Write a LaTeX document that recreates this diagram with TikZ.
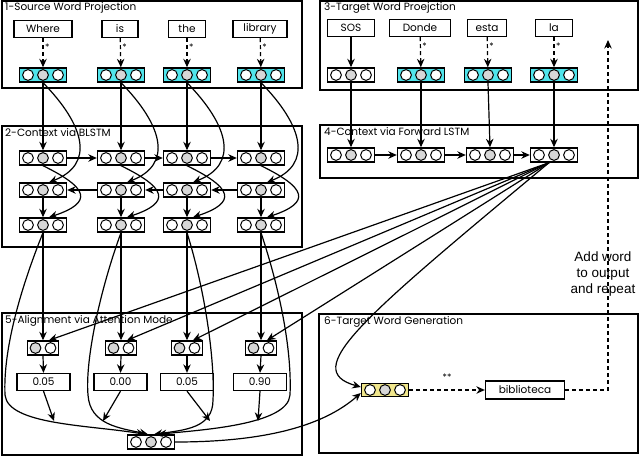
\documentclass[tikz,border=0pt]{standalone}
\usepackage{fontspec}
\setmainfont{Poppins}
\newfontfamily\arialf{Liberation Sans}
\usetikzlibrary{arrows.meta}
\definecolor{cyanf}{RGB}{80,228,235}
\definecolor{yelf}{RGB}{240,230,140}
\definecolor{greyc}{RGB}{215,215,215}
\begin{document}
\begin{tikzpicture}[x=1pt,y=-1pt,
  font=\fontsize{10.5}{12}\selectfont,
  panel/.style={draw, line width=1.3pt},
  ttl/.style={anchor=north west, inner sep=0pt},
  word/.style={draw, line width=1.3pt, minimum height=17pt, inner sep=0pt, fill=white},
  vec/.style={draw, line width=1.4pt, minimum width=47pt, minimum height=14pt, inner sep=0pt, fill=white,
    path picture={\foreach \dx/\cc in {-15pt/white,0pt/greyc,15pt/white}
      \draw[fill=\cc, line width=1pt] ([xshift=\dx]path picture bounding box.center) circle (5.4pt);}},
  att/.style={draw, line width=1.4pt, minimum width=31pt, minimum height=14pt, inner sep=0pt, fill=white,
    path picture={\foreach \dx/\cc in {-7.5pt/greyc,7.5pt/white}
      \draw[fill=\cc, line width=1pt] ([xshift=\dx]path picture bounding box.center) circle (5.4pt);}},
  arr/.style={-{Stealth[length=8.5pt,width=7.5pt]}, line width=1.2pt},
  darr/.style={arr, dash pattern=on 4pt off 3pt},
  star/.style={right, inner sep=1.5pt, font=\fontsize{9}{10}\selectfont}
]
\useasboundingbox (0,0) rectangle (640,456);
% panels
\draw[panel] (2,1) rectangle (302,88);
\draw[panel] (2,126) rectangle (302,247);
\draw[panel] (2,313) rectangle (302,455);
\draw[panel] (320,1) rectangle (638,90);
\draw[panel] (320,125) rectangle (638,178);
\draw[panel] (319,314) rectangle (638,453);
\node[ttl] (t1) at (5,2) {1-Source Word Projection};
\node[ttl] (t2) at (5,128) {2-Context via BLSTM};
\node[ttl] (t5) at (5,315) {5-Alignment via Attention Mode};
\node[ttl] (t3) at (324,2) {3-Target Word Proejction};
\node[ttl] (t4) at (324,127) {4-Context via Forward LSTM};
\node[ttl] (t6) at (324,316) {6-Target Word Generation};

% source words and vectors
\node[word, minimum width=58pt] (w1) at (43,29) {Where};
\node[word, minimum width=36pt] (w2) at (120,29) {is};
\node[word, minimum width=37pt] (w3) at (187,29) {the};
\node[word, minimum width=54pt] (w4) at (260,29) {library};
\foreach \i/\x in {1/43,2/121,3/187,4/261}{
  \node[vec, fill=cyanf] (s\i) at (\x,75) {};
  \node[vec] (f\i) at (\x,158) {};
  \node[vec] (b\i) at (\x,190) {};
  \node[vec] (o\i) at (\x,225) {};
  \node[att] (a\i) at (\x,348) {};
}
\node[word, minimum width=53pt] (p1) at (43.5,382) {0.05};
\node[word, minimum width=53pt] (p2) at (120.5,382) {0.00};
\node[word, minimum width=53pt] (p3) at (187,382) {0.05};
\node[word, minimum width=53pt] (p4) at (260,382) {0.90};
\node[vec] (m) at (151,442) {};

% target side
\node[word, minimum width=47pt] (u1) at (351,28) {SOS};
\node[word, minimum width=61pt] (u2) at (420,28) {Donde};
\node[word, minimum width=39pt] (u3) at (487,28) {esta};
\node[word, minimum width=37pt] (u4) at (554,28) {la};
\node[vec] (v1) at (351,75) {};
\node[vec, fill=cyanf] (v2) at (421,75) {};
\node[vec, fill=cyanf] (v3) at (488,75) {};
\node[vec, fill=cyanf] (v4) at (554,75) {};
\node[vec] (l1) at (351,155) {};
\node[vec] (l2) at (421,155) {};
\node[vec] (l3) at (490,155) {};
\node[vec] (l4) at (554,155) {};
\node[vec, fill=yelf, minimum height=13pt] (g) at (385,390) {};
\node[word, minimum width=79pt, minimum height=18pt] (bib) at (525,390) {biblioteca};
\coordinate (corner) at (608,390);
\coordinate (top) at (608,40);
\node[font=\arialf\fontsize{13.5}{16}\selectfont, align=center] (rep) at (603,274) {Add word\\to output\\and repeat};

% panel 1
\foreach \i in {1,...,4}{
  \draw[darr] (w\i) -- node[star, pos=0.3]{*} (s\i);
}
% panel 2
\foreach \i in {1,...,4}{
  \draw[arr] (s\i.south) -- (f\i.north);
  \draw[arr] (s\i.south) .. controls +(42,43) and +(46,-18) .. ([xshift=6pt]b\i.north);
  \draw[arr] (f\i.south) .. controls +(45,22) and +(45,-15) .. ([xshift=6pt]o\i.north);
  \draw[arr] (b\i.south) -- (o\i.north);
  \draw[arr] (o\i.south) -- (a\i.north);
  \draw[arr] (a\i.south) -- (p\i.north);
  \draw[arr] ([xshift=-5pt]l4.south) -- ([xshift=6pt]a\i.north);
}
\draw[arr] (f1) -- (f2); \draw[arr] (f2) -- (f3); \draw[arr] (f3) -- (f4);
\draw[arr] (b4) -- (b3); \draw[arr] (b3) -- (b2); \draw[arr] (b2) -- (b1);

% panel 5 curves to merge
\draw[arr] (o1.south) .. controls (20,290) and (3,350) .. (5,395) .. controls (8,425) and (90,425) .. ([xshift=-6pt]m.north);
\draw[arr] (o2.south) .. controls (100,290) and (85,360) .. (88,395) .. controls (90,425) and (120,428) .. ([xshift=-3pt]m.north);
\draw[arr] (o3.south) .. controls (205,290) and (215,360) .. (213,400) .. controls (213,428) and (185,430) .. ([xshift=3pt]m.north);
\draw[arr] (o4.south) .. controls (280,290) and (292,350) .. (290,395) .. controls (288,425) and (200,430) .. ([xshift=7pt]m.north);
\coordinate (e1) at (54,421);
\coordinate (e2) at (103,421);
\coordinate (e3) at (210,421);
\coordinate (e4) at (258,421);
\foreach \i in {1,...,4}{ \draw[arr] (p\i.south) -- (e\i); }

% target panels
\draw[arr] (u1) -- (v1);
\foreach \i in {2,3,4}{ \draw[darr] (u\i) -- node[star, pos=0.3]{*} (v\i); }
\foreach \i in {1,...,4}{ \draw[arr] (v\i.south) -- (l\i.north); }
\draw[arr] (l1) -- (l2); \draw[arr] (l2) -- (l3); \draw[arr] (l3) -- (l4);

% generation
\draw[arr] ([xshift=-5pt]l4.south) .. controls (360,320) and (300,370) .. ([yshift=3pt]g.west);
\draw[arr] (m.east) .. controls (280,442) and (330,420) .. ([yshift=-3pt]g.west);
\draw[darr] (g) -- node[midway, above=6pt, font=\fontsize{9}{10}\selectfont]{**} (bib);
\draw[darr] (bib.east) -- (corner) -- (top);
\end{tikzpicture}
\end{document}
